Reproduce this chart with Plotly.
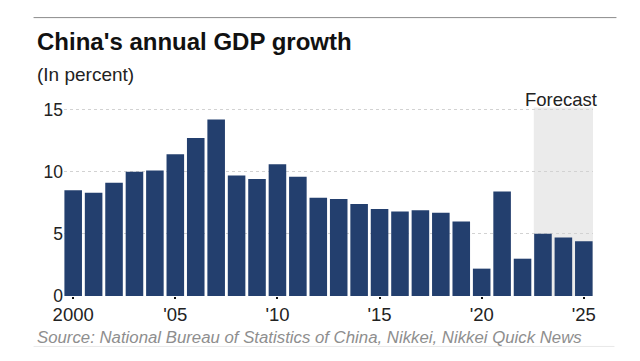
import plotly.graph_objects as go

years = list(range(2000, 2026))
growth = [8.5, 8.3, 9.1, 10.0, 10.1, 11.4, 12.7, 14.2, 9.7, 9.4, 10.6, 9.6,
          7.9, 7.8, 7.4, 7.0, 6.8, 6.9, 6.7, 6.0, 2.2, 8.4, 3.0, 5.0, 4.7, 4.4]
tick_vals = [2000, 2005, 2010, 2015, 2020, 2025]
tick_text = ["2000", "'05", "'10", "'15", "'20", "'25"]
y_ticks = [0, 5, 10, 15]
forecast_start = 2022.55

W, H = 640, 361
L, R = 63.5, 593.5
T, B = 106.8, 296.0
FONT = "Liberation Sans, Arial, Helvetica, sans-serif"


def px_x(p):
    return (p - L) / (R - L)


def px_y(p):
    return (B - p) / (B - T)


fig = go.Figure()
fig.add_trace(go.Bar(x=years, y=growth, marker=dict(color="#233f6e", line=dict(width=0)),
                     hoverinfo="skip"))

fig.add_shape(type="rect", xref="x", yref="y", x0=forecast_start, x1=2025.45, y0=0, y1=15.15,
              fillcolor="#ebebeb", line=dict(width=0), layer="below")

fig.add_shape(type="line", xref="paper", yref="paper", x0=px_x(33), x1=px_x(617),
              y0=px_y(17.3), y1=px_y(17.3), line=dict(color="#8c8c8c", width=1))
fig.add_shape(type="line", xref="paper", yref="paper", x0=px_x(33), x1=px_x(615),
              y0=px_y(346.5), y1=px_y(346.5), line=dict(color="#e8e8e8", width=1))

fig.add_annotation(text="<b>China's annual GDP growth</b>", xref="paper", yref="paper",
                   x=px_x(34), y=px_y(41), xanchor="left", yanchor="middle", showarrow=False,
                   font=dict(family=FONT, size=24, color="#111111"))
fig.add_annotation(text="(In percent)", xref="paper", yref="paper",
                   x=px_x(34), y=px_y(74), xanchor="left", yanchor="middle", showarrow=False,
                   font=dict(family=FONT, size=19, color="#222222"))
fig.add_annotation(text="Forecast", xref="x", yref="paper",
                   x=2023.9, y=px_y(99), xanchor="center", yanchor="middle", showarrow=False,
                   font=dict(family=FONT, size=18.5, color="#222222"))
fig.add_annotation(text="<i>Source: National Bureau of Statistics of China, Nikkei, Nikkei Quick News</i>",
                   xref="paper", yref="paper", x=px_x(34), y=px_y(337.5), xanchor="left",
                   yanchor="middle", showarrow=False,
                   font=dict(family=FONT, size=16.8, color="#8e8e8e"))

fig.update_layout(
    width=W, height=H,
    margin=dict(l=L, r=W - R, t=T, b=H - B, pad=0),
    paper_bgcolor="white", plot_bgcolor="white",
    bargap=0.14, showlegend=False,
    font=dict(family=FONT, color="#222222"),
)
fig.update_xaxes(range=[1999.55, 2025.45], tickvals=tick_vals, ticktext=tick_text,
                 showgrid=False, zeroline=False, showline=False,
                 ticks="outside", ticklen=2, tickwidth=2, tickcolor="#111111",
                 ticklabelstandoff=0,
                 tickfont=dict(family=FONT, size=18.5, color="#222222"))
fig.update_yaxes(range=[0, 15.2], tickvals=y_ticks, showgrid=True, gridcolor="#d2d2d2",
                 griddash="dot", gridwidth=1, zeroline=False, showline=False, ticks="",
                 tickfont=dict(family=FONT, size=17.5, color="#222222"))

fig.write_html("out.html", config={"displayModeBar": False},
               post_script="document.body.style.margin='0';document.body.style.overflow='hidden';")
